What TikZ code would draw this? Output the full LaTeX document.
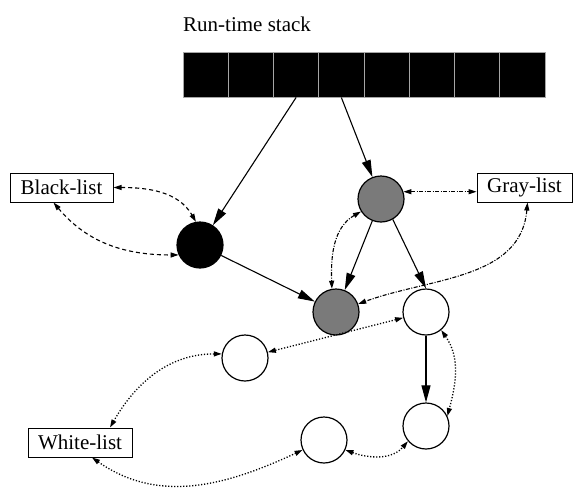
\documentclass[tikz,border=0pt]{standalone}
\usepackage{fontspec}
\setmainfont{Liberation Serif}
\usetikzlibrary{
	arrows.meta,
	calc,
	positioning
}

\tikzset{
	cell/.style={draw=white!65!black, fill=black, line width=0.7pt, minimum size=45.25pt, inner sep=0pt},
	obj/.style={circle, draw, line width=1.2pt, minimum size=46pt, inner sep=0pt},
	listbox/.style={draw, line width=1pt, inner xsep=9.5pt, minimum height=29pt, font=\fontsize{21}{25}\selectfont},
	ptr/.style={line width=1.1pt, -{Triangle[length=17pt,width=9pt]}},
	small/.style={{Triangle[length=8pt,width=5pt]}-{Triangle[length=8pt,width=5pt]}},
	blk/.style={small, line width=1.1pt, dash pattern=on 4pt off 3pt},
	gry/.style={small, line width=1.1pt, dash pattern=on 4pt off 1.5pt on 1pt off 1.5pt},
	wht/.style={small, line width=1.3pt, dash pattern=on 1.2pt off 1.8pt}
}

\begin{document}
\begin{tikzpicture}[x=1pt, y=1pt]
		\useasboundingbox (0,0) rectangle (573,-488);
		% 栈
		\node[anchor=base west, font=\fontsize{21}{25}\selectfont, inner sep=0pt] (title) at (183,-31) {Run-time stack};
		\foreach \i in {1,...,8}
			\node[cell] (s\i) at ({205.6+45.25*(\i-1)},-74.5) {};
		% 列表
		\node[listbox, minimum width=103pt] (BL) at (61.5,-187.5) {Black-list};
		\node[listbox, minimum width=95pt] (GL) at (524.5,-187.5) {Gray-list};
		\node[listbox, minimum width=104pt] (WL) at (80,-442.5) {White-list};
		% 对象
		\node[obj, fill=black] (B) at (200,-245) {};
		\node[obj, fill=black!52] (G1) at (381,-199) {};
		\node[obj, fill=black!52] (G2) at (336,-312) {};
		\node[obj] (W1) at (426,-312) {};
		\node[obj] (W2) at (426,-426) {};
		\node[obj] (W3) at (324,-440) {};
		\node[obj] (W4) at (245,-358) {};
		% 引用
		\draw[ptr] (s3.south) -- (B);
		\draw[ptr] (s4.south) -- (G1);
		\draw[ptr] (B) -- (G2);
		\draw[ptr] (G1) -- (G2);
		\draw[ptr] (G1.-60) -- (W1.north);
		\draw[ptr] (W1) -- (W2);
		% 黑名单
		\draw[blk] (BL.east) to[out=0, in=120] (B.100);
		\draw[blk] ([xshift=-8pt]BL.south) to[out=-50, in=180] (B.205);
		% 灰名单
		\draw[gry] (G1.18) -- (GL.west |- G1.18);
		\draw[gry] (G1.212) to[out=210, in=92] (G2.100);
		\draw[gry] ([xshift=3pt]GL.south) to[out=-95, in=20] (G2.20);
		% 白名单
		\draw[wht] (W4) -- (W1);
		\draw[wht] (W4.170) to[out=180, in=60] ([xshift=30pt]WL.north);
		\draw[wht] ([xshift=12pt]WL.south) to[out=-35, in=205] (W3.205);
		\draw[wht] (W3.-25) to[out=-20, in=230] (W2.220);
		\draw[wht] (W1.-50) to[out=-55, in=75] (W2.25);
	\end{tikzpicture}
\end{document}
